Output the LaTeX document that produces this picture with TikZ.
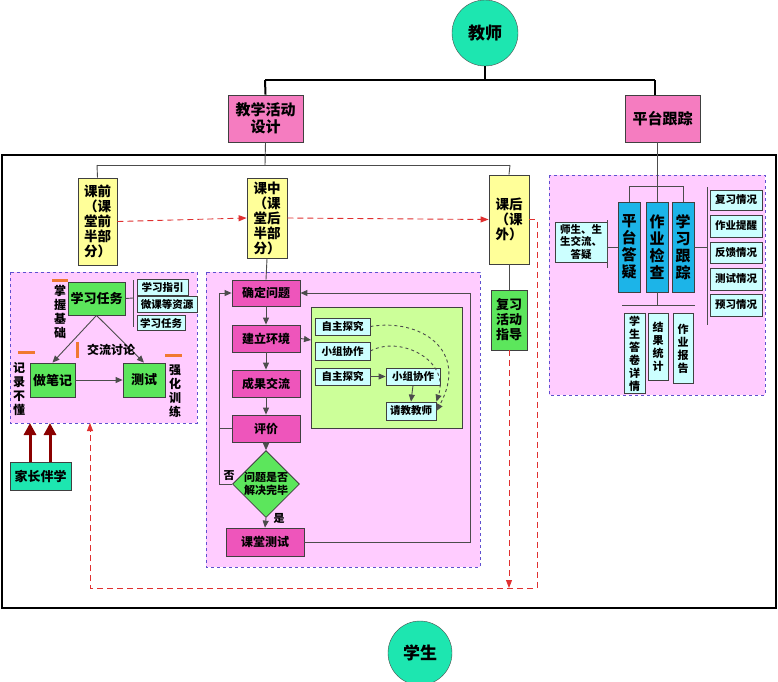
\documentclass[tikz,border=0pt]{standalone}
\usepackage{fontspec}
\setmainfont{Noto Sans CJK SC}
\usetikzlibrary{shapes.geometric,arrows.meta}
\definecolor{teal1}{HTML}{1DE6B0}
\definecolor{pinkb}{HTML}{F57CC0}
\definecolor{yel}{HTML}{FFFF99}
\definecolor{grn}{HTML}{5CE65C}
\definecolor{cyanl}{HTML}{CCFFFF}
\definecolor{blu}{HTML}{1CB4E8}
\definecolor{regbg}{HTML}{FFCCFF}
\definecolor{lgrn}{HTML}{CCFF99}
\definecolor{org}{HTML}{F07830}
\definecolor{dred}{HTML}{8B0000}
\definecolor{rdash}{HTML}{E03030}
\definecolor{pdash}{HTML}{6050D0}
\definecolor{mpink}{HTML}{EE55BB}
\begin{document}
\begin{tikzpicture}[x=1pt,y=-1pt,font=\bfseries,
 box/.style={draw=black!75,line width=0.8pt,inner sep=0pt,align=center,font=\bfseries\fontsize{11}{12}\selectfont},
 pk/.style={box,fill=pinkb,font=\bfseries\fontsize{15}{17}\selectfont},
 mp/.style={box,fill=mpink,font=\bfseries\fontsize{12}{13}\selectfont},
 ye/.style={box,fill=yel,font=\bfseries\fontsize{13.5}{15}\selectfont},
 gr/.style={box,fill=grn,font=\bfseries\fontsize{13}{15}\selectfont},
 cy/.style={box,fill=cyanl,font=\bfseries\fontsize{10.5}{12}\selectfont},
 bl/.style={box,fill=blu,font=\bfseries\fontsize{15}{17}\selectfont},
 reg/.style={draw=pdash,dashed,line width=0.9pt,fill=regbg},
 ln/.style={draw=black!70,line width=0.9pt},
 ar/.style={ln,-{Triangle[length=7pt,width=6pt]}},
 rd/.style={draw=rdash,dashed,line width=0.9pt,dash pattern=on 6pt off 4pt},
 rar/.style={rd,-{Triangle[length=8pt,width=6pt]}},
 od/.style={draw=org,line width=3pt},
 lab/.style={inner sep=0pt,align=center,font=\bfseries\fontsize{12}{14}\selectfont}]
\useasboundingbox (0,0) rectangle (778,681);
\fill[white] (0,0) rectangle (778,681);
% circles
\node[circle,draw=black!70,fill=teal1,minimum size=66pt,inner sep=0pt,font=\bfseries\fontsize{17}{19}\selectfont] (teach) at (485,33) {教师};
\node[circle,draw=black!70,fill=teal1,minimum size=64pt,inner sep=0pt,font=\bfseries\fontsize{17}{19}\selectfont] (stu) at (420,653) {学生};
\node[pk,minimum width=75pt,minimum height=47pt] (design) at (265.5,118.5) {教学活动\\设计};
\node[pk,minimum width=75pt,minimum height=47pt] (track) at (662.5,118.5) {平台跟踪};
\draw[line width=2pt] (teach.south) -- (485,80);
\draw[line width=2pt] (265,80) -- (655,80);
\draw[line width=2pt] (265,80) -- (design.north);
\draw[line width=2pt] (655,80) -- (655,95);
% big frame
\draw[line width=1.2pt] (2,155) rectangle (776,608);
% regions
\draw[reg] (10,272) rectangle (197,423);
\draw[reg] (206,272) rectangle (480,567);
\draw[reg] (549,175) rectangle (765,395);
% phases
\node[ye,minimum width=39pt,minimum height=87pt] (pre) at (97.5,221.5) {课前\\（课\\堂前\\半部\\分）};
\node[ye,minimum width=40pt,minimum height=80pt] (mid) at (267,218) {课中\\（课\\堂后\\半部\\分）};
\node[ye,minimum width=40pt,minimum height=89pt] (post) at (509,219.5) {课后\\（课\\外）};
\draw[ln] (design.south) -- (265,165);
\draw[ln] (97,165) -- (510,165);
\draw[ln] (97,165) -- (pre.north);
\draw[ln] (510,165) -- (post.north);
\draw[rar] (pre.east) -- (mid.west);
\draw[rar] (mid.east) -- (post.west);
% left region
\node[gr,minimum width=57pt,minimum height=33pt] (task) at (96.5,298.5) {学习任务};
\node[gr,minimum width=45pt,minimum height=34pt] (note) at (52.5,380) {做笔记};
\node[gr,minimum width=42pt,minimum height=34pt] (test) at (144,380) {测试};
\node[cy,minimum width=51pt,minimum height=16pt] (g1) at (162.5,287.5) {学习指引};
\node[cy,minimum width=60pt,minimum height=16pt] (g2) at (167,304.5) {微课等资源};
\node[cy,minimum width=48pt,minimum height=15pt] (g3) at (161,323) {学习任务};
\draw[ln] (133,280) -- (133,327);
\draw[ln] (task.east) -- (133,298);
\draw[ar] (task.south) -- (note.north);
\draw[ar] (task.south) -- (test.north);
\draw[ar] (note.east) -- (test.west);
\node[lab] (zw) at (60,312) {掌\\握\\基\\础};
\node[lab] (jl) at (111,350) {交流讨论};
\node[lab] (jb) at (19,389) {记\\录\\不\\懂};
\node[lab] (qh) at (175,391) {强\\化\\训\\练};
\draw[od] (52,280) -- (68,280);
\draw[od] (77,342) -- (77,358);
\draw[od] (18,352) -- (35,352);
\draw[od] (165,355) -- (182,355);
\node[box,fill=teal1,minimum width=61pt,minimum height=28pt,font=\bfseries\fontsize{13}{15}\selectfont] (parent) at (40.5,476) {家长伴学};
\coordinate (pa1) at (30,423); \coordinate (pa2) at (50,423);
\draw[draw=dred,line width=3pt,-{Triangle[length=12pt,width=12pt]}] (parent.north -| pa1) -- (pa1);
\draw[draw=dred,line width=3pt,-{Triangle[length=12pt,width=12pt]}] (parent.north -| pa2) -- (pa2);
% middle region
\node[mp,minimum width=68pt,minimum height=26pt] (q1) at (266,293) {确定问题};
\node[mp,minimum width=68pt,minimum height=27pt] (q2) at (266,338.5) {建立环境};
\node[mp,minimum width=68pt,minimum height=27pt] (q3) at (266,383.5) {成果交流};
\node[mp,minimum width=68pt,minimum height=27pt] (q4) at (266,428.5) {评价};
\node[diamond,draw=black!75,line width=0.8pt,fill=grn,minimum width=62pt,minimum height=58pt,inner sep=0pt,align=center,font=\bfseries\fontsize{11}{12.5}\selectfont] (dec) at (266,484) {问题是否\\解决完毕};
\node[mp,minimum width=78pt,minimum height=28pt] (q5) at (265,542) {课堂测试};
\draw[ln] (mid.south) -- (q1.north);
\draw[ar] (q1.south) -- (q2.north);
\draw[ar] (q2.south) -- (q3.north);
\draw[ar] (q3.south) -- (q4.north);
\draw[ar] (q4.south) -- (dec.north);
\draw[ar] (dec.south) -- (q5.north);
\node[lab,font=\bfseries\fontsize{11}{12}\selectfont] (yes) at (279,518) {是};
\node[lab,font=\bfseries\fontsize{11}{12}\selectfont] (no) at (229,476) {否};
\draw[ar] (dec.west) -- (219,484) -- (219,293) -- (q1.west);
\draw[ln] (q4.west) -- (219,428.5);
\draw[ar] (q5.east) -- (470,542) -- (470,293) -- (q1.east);
\draw[box,fill=lgrn] (311,307) rectangle (462,428);
\coordinate (gl) at (311,340);
\draw[ar] (q2.east) -- (gl);
\node[cy,minimum width=55pt,minimum height=17pt] (s1) at (342.5,326.5) {自主探究};
\node[cy,minimum width=55pt,minimum height=18pt] (s2) at (342.5,351) {小组协作};
\node[cy,minimum width=55pt,minimum height=17pt] (s3) at (342.5,376.5) {自主探究};
\node[cy,minimum width=54pt,minimum height=17pt] (s4) at (413,376.5) {小组协作};
\node[cy,minimum width=50pt,minimum height=18pt] (s5) at (411,411) {请教教师};
\draw[ar] (s3.east) -- (s4.west);
\draw[ar] (s4.south) -- (s5.north);
\draw[ln,dashed,-{Triangle[length=7pt,width=6pt]}] (s1.east) .. controls (420,318) and (470,350) .. (s5.east);
\draw[ln,dashed,-{Triangle[length=7pt,width=6pt]}] (s2.east) .. controls (400,335) and (450,360) .. (s5.north east);
% post
\node[gr,minimum width=36pt,minimum height=60pt] (rev) at (509,320) {复习\\活动\\指导};
\draw[ln] (post.south) -- (rev.north);
\coordinate (e1) at (509,588); \coordinate (e2) at (90,423);
\draw[rar] (rev.south) -- (e1);
\draw[rar] (post.east) -- (537,219.5) -- (537,588) -- (90,588) -- (e2);
% right region
\node[bl,minimum width=22pt,minimum height=90pt] (b1) at (629,247) {平\\台\\答\\疑};
\node[bl,minimum width=22pt,minimum height=90pt] (b2) at (657,247) {作\\业\\检\\查};
\node[bl,minimum width=22pt,minimum height=90pt] (b3) at (683,247) {学\\习\\跟\\踪};
\draw[ln] (track.south -| 657,0) -- (657,186);
\draw[ln] (629,186) -- (683,186);
\draw[ln] (629,186) -- (b1.north);
\draw[ln] (657,186) -- (b2.north);
\draw[ln] (683,186) -- (b3.north);
\node[cy,minimum width=52pt,minimum height=40pt,font=\bfseries\fontsize{10.5}{12.5}\selectfont] (tsq) at (581,242) {师生、生\\生交流、\\答疑};
\draw[ln] (607.5,220) -- (607.5,268);
\draw[ln] (607.5,247) -- (b1.west);
\draw[ln] (707,187) -- (707,325);
\draw[ln] (b3.east) -- (707,247);
\node[cy,minimum width=52pt,minimum height=20pt] (r1) at (736,200) {复习情况};
\node[cy,minimum width=52pt,minimum height=22pt] (r2) at (736,226) {作业提醒};
\node[cy,minimum width=52pt,minimum height=21pt] (r3) at (736,252.5) {反馈情况};
\node[cy,minimum width=52pt,minimum height=22pt] (r4) at (736,279) {测试情况};
\node[cy,minimum width=52pt,minimum height=22pt] (r5) at (736,305) {预习情况};
\draw[ln] (b2.south) -- (657,305);
\draw[ln] (622,305) -- (695,305);
\node[cy,minimum width=21pt,minimum height=80pt,anchor=north,font=\bfseries\fontsize{11}{13}\selectfont] (u1) at (634.5,313) {学\\生\\答\\卷\\详\\情};
\node[cy,minimum width=20pt,minimum height=67pt,anchor=north,font=\bfseries\fontsize{11}{13}\selectfont] (u2) at (658,313) {结\\果\\统\\计};
\node[cy,minimum width=20pt,minimum height=70pt,anchor=north,font=\bfseries\fontsize{11}{13}\selectfont] (u3) at (683,313) {作\\业\\报\\告};
\end{tikzpicture}
\end{document}
